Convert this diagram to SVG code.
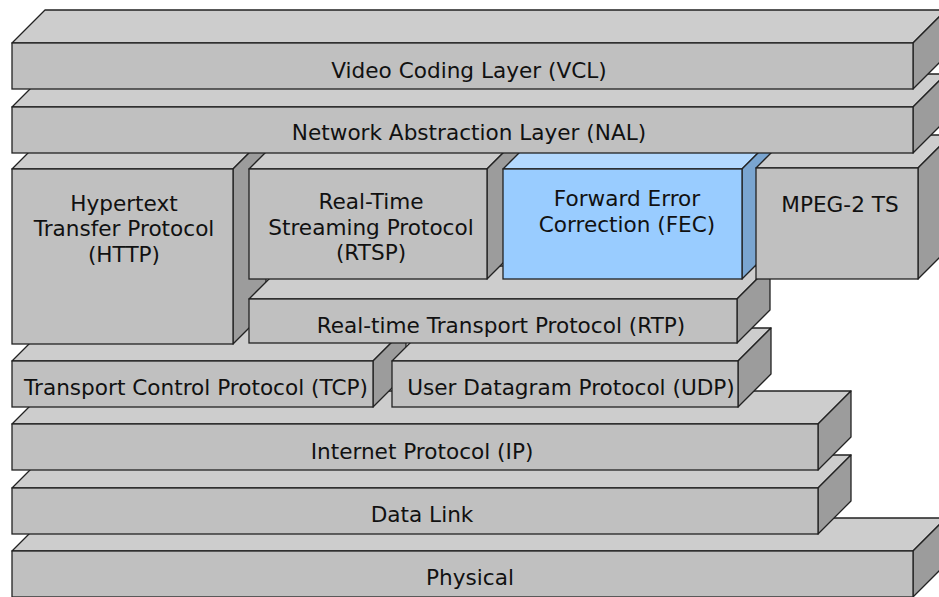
<svg xmlns="http://www.w3.org/2000/svg" width="939" height="597" viewBox="0 0 939 597">
<style>
.fr{fill:#c0c0c0;stroke:#222;stroke-width:1.3}
.tp{fill:#cdcdcd;stroke:#222;stroke-width:1.3;stroke-linejoin:round}
.sd{fill:#9c9c9c;stroke:#222;stroke-width:1.3;stroke-linejoin:round}
.bfr{fill:#99ccff;stroke:#222;stroke-width:1.3}
.btp{fill:#b3d9ff;stroke:#222;stroke-width:1.3;stroke-linejoin:round}
.bsd{fill:#7aa5d0;stroke:#222;stroke-width:1.3;stroke-linejoin:round}
text{font-family:"DejaVu Sans",Verdana,sans-serif;font-size:21.6px;fill:#111;text-anchor:middle}
</style>
<rect width="939" height="597" fill="#fff"/>
<g id="physical">
<polygon class="tp" points="12,551 45,518 946,518 913,551"/>
<polygon class="sd" points="913,551 946,518 946,564 913,597"/>
<rect class="fr" x="12" y="551" width="901" height="46"/>
<text x="470" y="585">Physical</text>
</g>
<g id="datalink">
<polygon class="tp" points="12,488 45,455 851,455 818,488"/>
<polygon class="sd" points="818,488 851,455 851,501 818,534"/>
<rect class="fr" x="12" y="488" width="806" height="46"/>
<text x="422" y="522">Data Link</text>
</g>
<g id="ip">
<polygon class="tp" points="12,424 45,391 851,391 818,424"/>
<polygon class="sd" points="818,424 851,391 851,437 818,470"/>
<rect class="fr" x="12" y="424" width="806" height="46"/>
<text x="422" y="459">Internet Protocol (IP)</text>
</g>
<g id="tcp">
<polygon class="tp" points="12,361 45,328 406,328 373,361"/>
<polygon class="sd" points="373,361 406,328 406,374 373,407"/>
<rect class="fr" x="12" y="361" width="361" height="46"/>
<text x="196" y="395">Transport Control Protocol (TCP)</text>
</g>
<g id="udp">
<polygon class="tp" points="392,361 425,328 771,328 738,361"/>
<polygon class="sd" points="738,361 771,328 771,374 738,407"/>
<rect class="fr" x="392" y="361" width="346" height="46"/>
<text x="571" y="395">User Datagram Protocol (UDP)</text>
</g>
<g id="http">
<polygon class="tp" points="12,169 45,136 266,136 233,169"/>
<polygon class="sd" points="233,169 266,136 266,311 233,344"/>
<rect class="fr" x="12" y="169" width="221" height="175"/>
<text x="124" y="211">Hypertext</text>
<text x="124" y="236">Transfer Protocol</text>
<text x="124" y="262">(HTTP)</text>
</g>
<g id="rtp">
<polygon class="tp" points="249,299 282,266 770,266 737,299"/>
<polygon class="sd" points="737,299 770,266 770,310 737,343"/>
<rect class="fr" x="249" y="299" width="488" height="44"/>
<text x="501" y="333">Real-time Transport Protocol (RTP)</text>
</g>
<g id="rtsp">
<polygon class="tp" points="249,169 282,136 520,136 487,169"/>
<polygon class="sd" points="487,169 520,136 520,246 487,279"/>
<rect class="fr" x="249" y="169" width="238" height="110"/>
<text x="371" y="209">Real-Time</text>
<text x="371" y="235">Streaming Protocol</text>
<text x="371" y="260">(RTSP)</text>
</g>
<g id="fec">
<polygon class="btp" points="503,169 536,136 775,136 742,169"/>
<polygon class="bsd" points="742,169 775,136 775,246 742,279"/>
<rect class="bfr" x="503" y="169" width="239" height="110"/>
<text x="627" y="206">Forward Error</text>
<text x="627" y="232">Correction (FEC)</text>
</g>
<g id="mpeg">
<polygon class="tp" points="756,168 789,135 951,135 918,168"/>
<polygon class="sd" points="918,168 951,135 951,246 918,279"/>
<rect class="fr" x="756" y="168" width="162" height="111"/>
<text x="840" y="212">MPEG-2 TS</text>
</g>
<g id="nal">
<polygon class="tp" points="12,107 45,74 946,74 913,107"/>
<polygon class="sd" points="913,107 946,74 946,120 913,153"/>
<rect class="fr" x="12" y="107" width="901" height="46"/>
<text x="469" y="140">Network Abstraction Layer (NAL)</text>
</g>
<g id="vcl">
<polygon class="tp" points="12,43 45,10 946,10 913,43"/>
<polygon class="sd" points="913,43 946,10 946,56 913,89"/>
<rect class="fr" x="12" y="43" width="901" height="46"/>
<text x="469" y="78">Video Coding Layer (VCL)</text>
</g>
<g id="connectors"/>
</svg>
